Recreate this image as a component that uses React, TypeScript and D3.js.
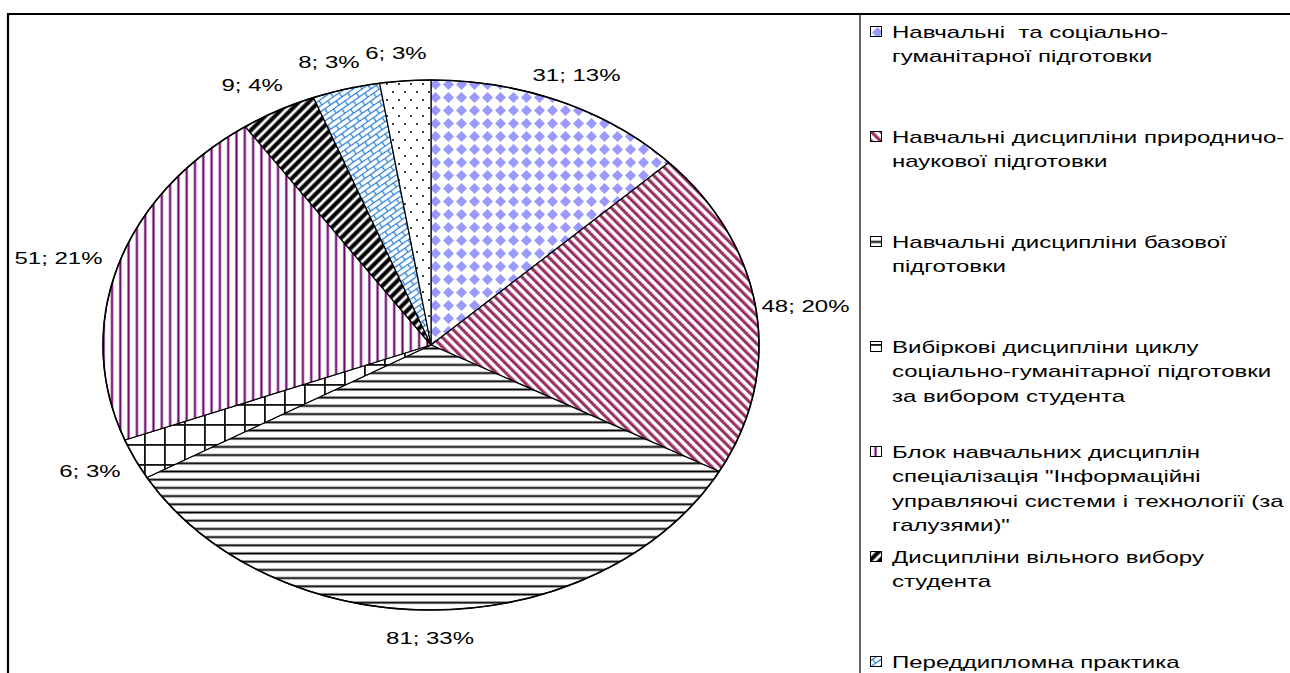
import React from "react";
import * as d3 from "d3";

// values per slice, clockwise from 12 o'clock
const values = [31, 48, 81, 6, 51, 9, 8, 6];
const percentLabels = ["13%", "20%", "33%", "3%", "21%", "4%", "3%", "3%"];

// legend text, wrapped the way the original legend wraps it
const legendLines = [
  ["Навчальні  та соціально-", "гуманітарної підготовки"],
  ["Навчальні дисципліни природничо-", "наукової підготовки"],
  ["Навчальні дисципліни базової", "підготовки"],
  ["Вибіркові дисципліни циклу", "соціально-гуманітарної підготовки", "за вибором студента"],
  ["Блок навчальних дисциплін", "спеціалізація \"Інформаційні", "управляючі системи і технології (за", "галузями)\""],
  ["Дисципліни вільного вибору", "студента"],
  ["Переддипломна практика"],
  ["Державна атестація"],
];

const patternIds = ["pDiamond", "pMaroon", "pHoriz", "pGrid", "pPurple", "pBlack", "pBrick", "pDots"];

const W = 1290;
const H = 673;
const cx = 431;
const cy = 345;
const rx = 328;
const ry = 265;
const font = "'Liberation Sans', Arial, sans-serif";
const fontSize = 16;
const stretch = 1.5; // the original picture is stretched sideways

const pt = (a: number) => [cx + rx * Math.sin(a), cy - ry * Math.cos(a)];

const Patterns = () => (
  <defs>
    <pattern id="pDiamond" width="13" height="13" patternUnits="userSpaceOnUse">
      <rect width="13" height="13" fill="#fff" />
      <polygon points="6.5,1 12,6.5 6.5,12 1,6.5" fill="#9999ff" />
    </pattern>
    <pattern id="pMaroon" width="6.6" height="6.6" patternUnits="userSpaceOnUse" patternTransform="rotate(-45)">
      <rect width="6.6" height="6.6" fill="#fff" />
      <rect width="3.2" height="6.6" fill="#993366" />
    </pattern>
    <pattern id="pHoriz" width="8" height="8.2" patternUnits="userSpaceOnUse">
      <rect width="8" height="8.2" fill="#fff" />
      <rect y="2.6" width="8" height="3" fill="#bbb" />
      <rect y="3.3" width="8" height="1.6" fill="#000" />
    </pattern>
    <pattern id="pGrid" width="20" height="20" patternUnits="userSpaceOnUse">
      <rect width="20" height="20" fill="#fff" />
      <rect x="4" width="1.8" height="20" fill="#111" />
      <rect y="4" width="20" height="1.8" fill="#111" />
    </pattern>
    <pattern id="pPurple" width="8.3" height="8" patternUnits="userSpaceOnUse">
      <rect width="8.3" height="8" fill="#fff" />
      <rect x="2.6" width="3" height="8" fill="#cc99cc" />
      <rect x="3.3" width="1.6" height="8" fill="#660066" />
    </pattern>
    <pattern id="pBlack" width="7" height="7" patternUnits="userSpaceOnUse" patternTransform="rotate(45)">
      <rect width="7" height="7" fill="#fff" />
      <rect x="1" width="5" height="7" fill="#888" />
      <rect x="1.8" width="3.4" height="7" fill="#000" />
    </pattern>
    <pattern id="pBrick" width="14" height="10" patternUnits="userSpaceOnUse" patternTransform="rotate(-35)">
      <rect width="14" height="10" fill="#fff" />
      <g stroke="#2a7fd4" strokeWidth="1.3" fill="none">
        <line x1="0" y1="0.5" x2="14" y2="0.5" />
        <line x1="0" y1="5.5" x2="14" y2="5.5" />
        <line x1="0.5" y1="0" x2="0.5" y2="5.5" />
        <line x1="7.5" y1="5.5" x2="7.5" y2="10" />
      </g>
    </pattern>
    <pattern id="pDots" width="12" height="16" patternUnits="userSpaceOnUse">
      <rect width="12" height="16" fill="#fff" />
      <circle cx="3" cy="4" r="1" fill="#000" />
      <circle cx="9" cy="12" r="1" fill="#000" />
    </pattern>
  </defs>
);

export default function App() {
  const arcs = d3.pie<number>().sort(null).value((d) => d)(values);

  const slicePath = (a0: number, a1: number) => {
    const [x0, y0] = pt(a0);
    const [x1, y1] = pt(a1);
    const large = a1 - a0 > Math.PI ? 1 : 0;
    return `M${cx},${cy}L${x0},${y0}A${rx},${ry} 0 ${large} 1 ${x1},${y1}Z`;
  };

  const legendY = d3.scaleLinear().domain([0, 1]).range([32, 137]);
  const lineH = 24.5;

  return (
    <svg width={W} height={H} style={{ position: "absolute", left: 0, top: 0, background: "#fff" }}>
      <Patterns />
      <rect width={W} height={H} fill="#fff" />

      {/* slices */}
      <g>
        {arcs.map((a, i) => (
          <path key={i} d={slicePath(a.startAngle, a.endAngle)} fill={`url(#${patternIds[i]})`} stroke="#000" strokeWidth={1.2} />
        ))}
        <ellipse cx={cx} cy={cy} rx={rx} ry={ry} fill="none" stroke="#000" strokeWidth={1.6} />
      </g>

      {/* data labels */}
      <g fontFamily={font} fontSize={fontSize} fill="#000">
        {arcs.map((a, i) => {
          const mid = (a.startAngle + a.endAngle) / 2;
          const s = Math.sin(mid);
          const c = Math.cos(mid);
          const [px, py] = pt(mid);
          const label = `${values[i]}; ${percentLabels[i]}`;
          const w = label.length * 12.5;
          const lx = px + 12 * s + (w / 2) * s - 6;
          const ly = py - 28 * c;
          return (
            <text key={i} transform={`translate(${lx},${ly}) scale(${stretch},1)`} textAnchor="middle" dy="0.35em">
              {label}
            </text>
          );
        })}
      </g>

      {/* legend */}
      <g fontFamily={font} fontSize={fontSize} fill="#000">
        {legendLines.map((lines, i) => {
          const y = legendY(i);
          return (
            <g key={i}>
              <rect x={870.5} y={y - 5.5} width={11} height={10} fill={`url(#${patternIds[i]})`} stroke="#000" strokeWidth={1} />
              {lines.map((t, j) => (
                <text key={j} transform={`translate(892,${y + j * lineH}) scale(${stretch},1)`} dy="0.35em" style={{ whiteSpace: "pre" }}>
                  {t}
                </text>
              ))}
            </g>
          );
        })}
      </g>

      {/* frame */}
      <path d={`M8,${H}V14H${W}`} fill="none" stroke="#000" strokeWidth={2.2} />
      <line x1={860} y1={14} x2={860} y2={H} stroke="#000" strokeWidth={1.2} />
    </svg>
  );
}
